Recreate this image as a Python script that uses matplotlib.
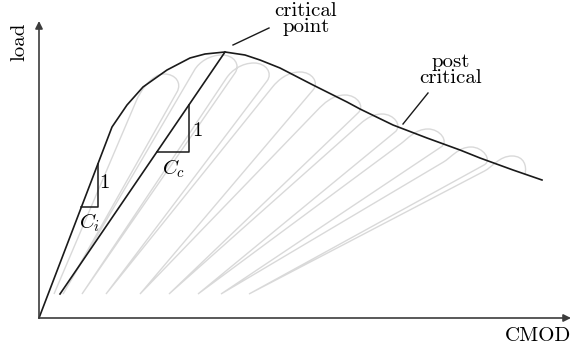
import numpy as np
import matplotlib
matplotlib.use("Agg")
import matplotlib.pyplot as plt
from matplotlib.path import Path
from matplotlib.patches import PathPatch

plt.rcParams.update({
    "font.family": "serif",
    "font.serif": ["cmr10"],
    "mathtext.fontset": "cm",
    "axes.formatter.use_mathtext": True,
    "font.size": 15,
})

# envelope of the load - CMOD response (linear up to the kink, then softening)
envelope_cmod = [0.0, 1.46, 1.76, 2.08, 2.56, 3.02, 3.32, 3.72, 4.12, 4.42,
                 4.82, 5.48, 6.16, 6.42, 7.08, 7.76, 8.42, 8.82, 9.48, 10.06]
envelope_load = [0.0, 3.82, 4.26, 4.62, 4.96, 5.20, 5.28, 5.32, 5.26, 5.16,
                 5.00, 4.66, 4.32, 4.18, 3.86, 3.60, 3.36, 3.20, 2.96, 2.76]

# residual opening reached after each unloading
foot_cmod = [0.30, 0.48, 0.86, 1.34, 2.02, 2.60, 3.18, 3.64, 4.20]
foot_load = 0.48

# top of each reloading hump
hump_cmod = [2.50, 3.66, 4.30, 5.22, 6.12, 6.86, 7.78, 8.64, 9.46]
hump_load = [4.88, 5.26, 5.10, 4.92, 4.46, 4.08, 3.78, 3.42, 3.24]

# secant line through the critical point
cc_start = (0.42, 0.48)

# slope triangles: (right edge cmod, base load)
ci_tri = (1.18, 2.22)
cc_tri = (3.00, 3.32)

ENV = "#1a1a1a"
GREY = "#d9d9d9"
AXIS = "#3c3c3c"


def unit(v):
    return v / np.hypot(*v)


def cycles_path():
    verts = [np.array([foot_cmod[0], foot_load])]
    codes = [Path.MOVETO]
    for k, (tx, ty) in enumerate(zip(hump_cmod, hump_load)):
        top = np.array([tx, ty])
        rx = tx - 0.55
        # reloading stays under the envelope until it reaches the hump
        ry = min(ty - 0.3, np.interp(rx, envelope_cmod, envelope_load) - 0.12)
        r = np.array([rx, ry])
        u = unit(r - verts[-1])
        verts += [r, r + 0.18 * u, top - [0.25, 0.0], top]
        codes += [Path.LINETO] + [Path.CURVE4] * 3
        hook = top + [0.26, -0.36]
        if k + 1 < len(foot_cmod):
            foot = np.array([foot_cmod[k + 1], foot_load])
            c2 = hook - 0.2 * unit(foot - hook)
            verts += [top + [0.24, 0.0], c2, hook, foot]
            codes += [Path.CURVE4] * 3 + [Path.LINETO]
        else:
            verts += [top + [0.24, 0.0], hook + [0.04, 0.16], hook]
            codes += [Path.CURVE4] * 3
    return Path(np.array(verts), codes)


fig = plt.figure(figsize=(5.81, 3.47), dpi=100)
ax = fig.add_axes([0, 0, 1, 1])
ax.set_xlim(-0.78, 10.84)
ax.set_ylim(-0.58, 6.36)
ax.axis("off")

# loading / unloading cycles
ax.add_patch(PathPatch(cycles_path(), facecolor="none", edgecolor=GREY,
                       lw=1.0, zorder=1))

# envelope
ax.plot(envelope_cmod, envelope_load, color=ENV, lw=1.2, zorder=3,
        solid_joinstyle="round")

# secant stiffness line to the critical point
peak = int(np.argmax(envelope_load))
px, py = envelope_cmod[peak], envelope_load[peak]
ax.plot([cc_start[0], px], [cc_start[1], py], color=ENV, lw=1.2, zorder=3)

# slope triangles
ci_slope = envelope_load[1] / envelope_cmod[1]
xr, yb = ci_tri
ax.plot([yb / ci_slope, xr, xr], [yb, yb, ci_slope * xr], color=ENV, lw=1.1,
        zorder=3)
ax.text(xr + 0.12, 2.70, "1", ha="center", va="center")
ax.text(1.02, 1.90, "$C_i$", ha="center", va="center")

cc_slope = (py - cc_start[1]) / (px - cc_start[0])
xr, yb = cc_tri
ax.plot([cc_start[0] + (yb - cc_start[1]) / cc_slope, xr, xr],
        [yb, yb, cc_start[1] + cc_slope * (xr - cc_start[0])],
        color=ENV, lw=1.1, zorder=3)
ax.text(xr + 0.16, 3.74, "1", ha="center", va="center")
ax.text(2.70, 2.98, "$C_c$", ha="center", va="center")

# axes with arrows
arrow = dict(arrowstyle="-|>", color=AXIS, lw=1.2, mutation_scale=11,
             shrinkA=0, shrinkB=0)
ax.annotate("", xy=(0, 5.94), xytext=(0, 0), arrowprops=arrow)
ax.annotate("", xy=(10.64, 0), xytext=(0, 0), arrowprops=arrow)
ax.text(-0.40, 5.52, "load", rotation=90, ha="center", va="center")
ax.text(10.64, -0.36, "CMOD", ha="right", va="center")

# annotations
ax.plot([3.88, 4.60], [5.46, 5.80], color=ENV, lw=1.0)
ax.text(5.34, 5.98, "critical\npoint", ha="center", va="center",
        linespacing=0.85)
ax.plot([7.28, 7.78], [3.88, 4.50], color=ENV, lw=1.0)
ax.text(8.24, 4.96, "post\ncritical", ha="center", va="center",
        linespacing=0.85)

fig.savefig("out.png", dpi=100)
